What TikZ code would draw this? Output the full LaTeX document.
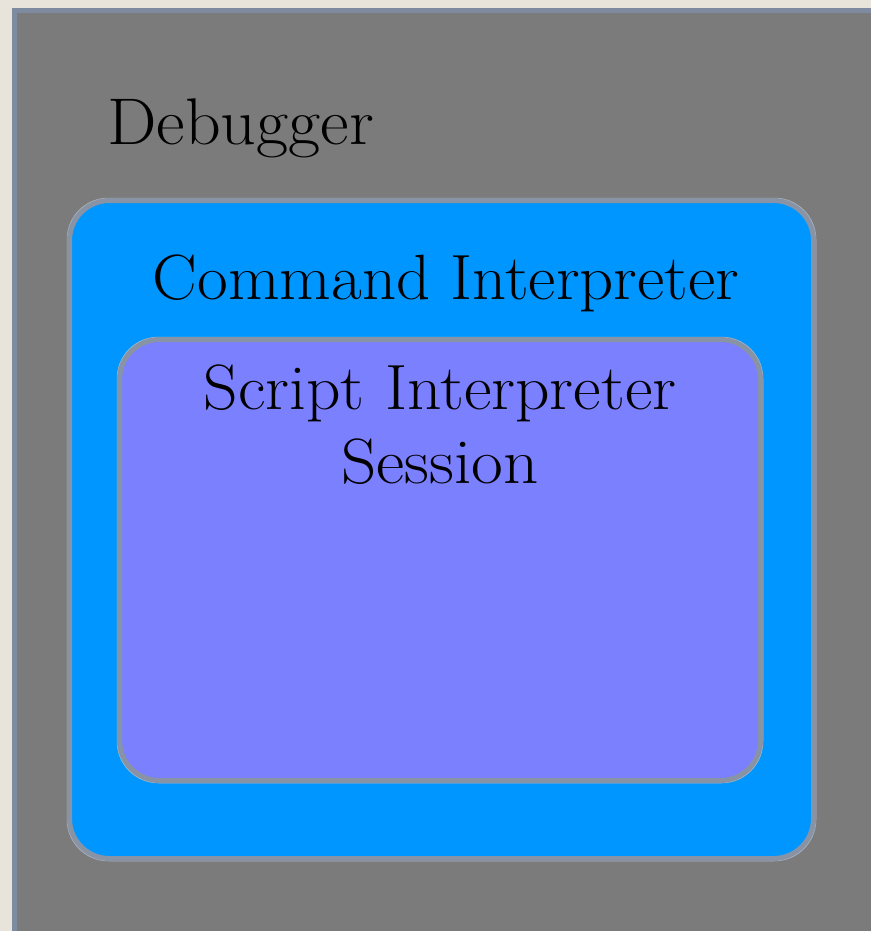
\documentclass[tikz,border=0pt]{standalone}
\usepackage{fontspec}
\definecolor{paper}{RGB}{232,228,220}
\definecolor{panelgray}{RGB}{123,123,123}
\definecolor{panelrim}{RGB}{125,138,160}
\definecolor{boxrim}{RGB}{136,148,166}
\definecolor{boxglow}{RGB}{178,186,198}
\definecolor{cmdblue}{RGB}{0,150,255}
\definecolor{scriptviolet}{RGB}{123,128,255}
\newcommand{\widetext}[2][1.06]{\scalebox{#1}[1]{#2}}
\tikzset{
  layerbox/.style={rounded corners=40pt, line width=5pt, draw=boxrim},
  glowrim/.style={rounded corners=41pt, line width=1.5pt, draw=boxglow},
  boxlabel/.style={anchor=base, inner sep=0pt, text=black, font=\fontsize{64}{70}\selectfont},
}
\begin{document}
\begin{tikzpicture}[x=1pt,y=-1pt]
  % page and paper background
  \useasboundingbox (0,0) rectangle (871,931);
  \fill[paper] (0,0) rectangle (871,931);

  % debugger panel, running off the right and bottom edges
  \fill[panelrim] (12,8) rectangle (871,931);
  \fill[panelgray] (17,13) rectangle (871,931);
  \node[boxlabel, anchor=base west, font=\fontsize{66}{70}\selectfont] (debugger) at (107,145) {\widetext[1.06]{Debugger}};

  % command interpreter box
  \draw[glowrim] (67.5,198.5) rectangle (815.5,860.5);
  \draw[layerbox, fill=cmdblue] (69.5,200.5) rectangle (813.5,858.5);
  \node[boxlabel] (cmdlabel) at (446,299) {\widetext[1.045]{Command Interpreter}};

  % script interpreter session box
  \draw[glowrim] (117.5,337.5) rectangle (762.5,782.5);
  \draw[layerbox, fill=scriptviolet] (119.5,339.5) rectangle (760.5,780.5);
  \node[boxlabel] (scriptlabel) at (440,409) {\widetext[1.055]{Script Interpreter}};
  \node[boxlabel] (sessionlabel) at (440,483) {\widetext[1.08]{Session}};
\end{tikzpicture}
\end{document}
